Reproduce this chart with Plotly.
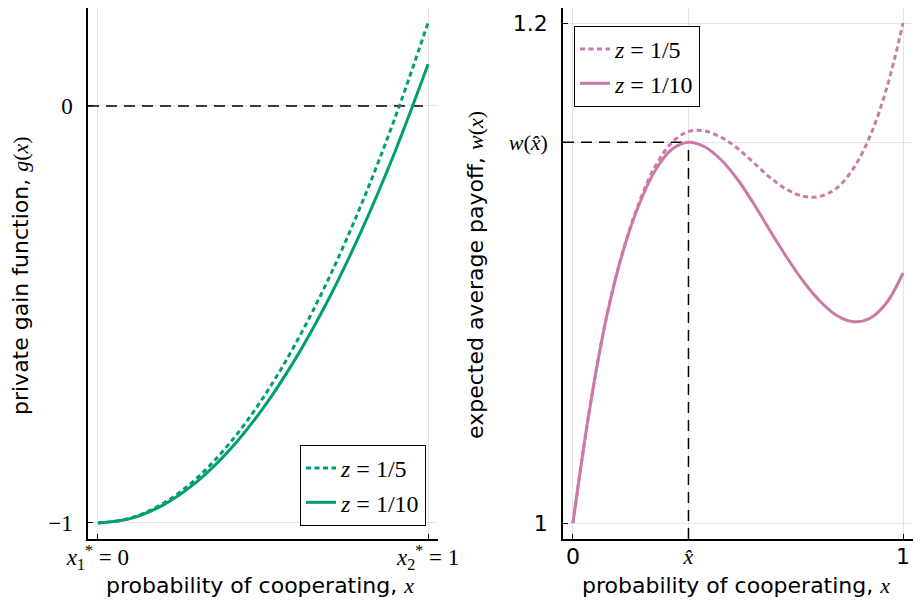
import plotly.graph_objects as go

# ---------------- data ----------------
x_g = [0.0, 0.1, 0.2, 0.3, 0.4, 0.5, 0.6, 0.7, 0.8, 0.9, 1.0]
g_z5 = [-1.0, -0.988, -0.952, -0.892, -0.808, -0.700, -0.568, -0.412, -0.232, -0.028, 0.200]
g_z10 = [-1.0, -0.989, -0.956, -0.901, -0.824, -0.725, -0.604, -0.461, -0.296, -0.109, 0.100]

x_w = [0.0, 0.05, 0.10, 0.15, 0.20, 0.25, 0.30, 0.35, 0.40, 0.45, 0.50,
       0.55, 0.60, 0.65, 0.70, 0.75, 0.80, 0.85, 0.90, 0.95, 1.00]
w_z5 = [1.0000, 1.0450, 1.0813, 1.1081, 1.1280, 1.1428, 1.1522, 1.1566, 1.1568, 1.1542, 1.1497,
        1.1438, 1.1379, 1.1333, 1.1306, 1.1307, 1.1341, 1.1419, 1.1548, 1.1738, 1.2000]
w_z10 = [1.0000, 1.0450, 1.0812, 1.1078, 1.1272, 1.1412, 1.1495, 1.1523, 1.1504, 1.1451, 1.1372,
         1.1272, 1.1163, 1.1058, 1.0963, 1.0885, 1.0829, 1.0805, 1.0819, 1.0881, 1.1000]

x_hat = 0.35
w_hat = 1.1523

series_names = ["<i>z</i> = 1/5", "<i>z</i> = 1/10"]

SERIF = "Liberation Serif"
SANS = "DejaVu Sans"

left_xticks = [0, 1]
left_xticktext = ["<i>x</i><sub>1</sub><sup>*</sup> = 0", "<i>x</i><sub>2</sub><sup>*</sup> = 1"]
left_yticks = [-1, 0]
left_yticktext = ["\u22121", "0"]

right_xticks = [0, x_hat, 1]
right_xticktext = ["0", f'<span style="font-family:{SERIF}"><i>x\u0302</i></span>', "1"]
right_yticks = [1, w_hat, 1.2]
right_yticktext = ["1", f'<span style="font-family:{SERIF}"><i>w</i>(<i>x\u0302</i>)</span>', "1.2"]

GREEN = "#009E73"
PINK = "#CC79A7"
DOT = "5px,3.5px"
REF_DASH = "11px,7px"

fig = go.Figure()

# ---------- left panel ----------
fig.add_trace(go.Scatter(x=[-0.03, 1], y=[0, 0], mode="lines", showlegend=False,
                         line=dict(color="black", width=1.5, dash=REF_DASH),
                         xaxis="x", yaxis="y", hoverinfo="skip"))
fig.add_trace(go.Scatter(x=x_g, y=g_z5, mode="lines", name=series_names[0],
                         line=dict(color=GREEN, width=3, dash=DOT, shape="spline"),
                         xaxis="x", yaxis="y", legend="legend"))
fig.add_trace(go.Scatter(x=x_g, y=g_z10, mode="lines", name=series_names[1],
                         line=dict(color=GREEN, width=3, shape="spline"),
                         xaxis="x", yaxis="y", legend="legend"))

# ---------- right panel ----------
fig.add_trace(go.Scatter(x=[-0.03, x_hat], y=[w_hat, w_hat], mode="lines", showlegend=False,
                         line=dict(color="black", width=1.5, dash=REF_DASH),
                         xaxis="x2", yaxis="y2", hoverinfo="skip"))
fig.add_trace(go.Scatter(x=[x_hat, x_hat], y=[0.9936, w_hat], mode="lines", showlegend=False,
                         line=dict(color="black", width=1.5, dash=REF_DASH),
                         xaxis="x2", yaxis="y2", hoverinfo="skip"))
fig.add_trace(go.Scatter(x=x_w, y=w_z5, mode="lines", name=series_names[0],
                         line=dict(color=PINK, width=3, dash=DOT, shape="spline"),
                         xaxis="x2", yaxis="y2", legend="legend2"))
fig.add_trace(go.Scatter(x=x_w, y=w_z10, mode="lines", name=series_names[1],
                         line=dict(color=PINK, width=3, shape="spline"),
                         xaxis="x2", yaxis="y2", legend="legend2"))

# page has an 8px body margin: the figure is drawn 905x589 starting at (8, 8)
OFF = 8
W, H = 921 - 2 * OFF, 605 - 2 * OFF


def px(p):
    return (p - OFF) / W


def py(p):
    return (H - (p - OFF)) / H


axis_common = dict(showline=True, linecolor="black", linewidth=1.5, mirror=False,
                   ticks="inside", ticklen=5, tickwidth=1.2, tickcolor="black",
                   showgrid=True, gridcolor="rgba(0,0,0,0.1)", gridwidth=1,
                   zeroline=False, automargin=False, fixedrange=True)

ydom = [py(539), 1.0]

fig.update_layout(
    width=W, height=H,
    margin=dict(l=0, r=0, t=0, b=0),
    paper_bgcolor="white", plot_bgcolor="white",
    font=dict(family=SANS, size=22, color="black"),
    showlegend=True,
    xaxis=dict(domain=[px(88), px(438)], range=[-0.03, 1.03], anchor="y",
               tickvals=left_xticks, ticktext=left_xticktext,
               tickfont=dict(family=SERIF, size=23), ticklabelstandoff=-3, **axis_common),
    yaxis=dict(domain=ydom, range=[-1.0384, 0.235], anchor="x",
               tickvals=left_yticks, ticktext=left_yticktext,
               tickfont=dict(family=SERIF, size=23), ticklabelstandoff=9, **axis_common),
    xaxis2=dict(domain=[px(563), 1.0], range=[-0.03, 1.03], anchor="y2",
                tickvals=right_xticks, ticktext=right_xticktext,
                tickfont=dict(family=SANS, size=22), ticklabelstandoff=-3, **axis_common),
    yaxis2=dict(domain=ydom, range=[0.9936, 1.206], anchor="x2",
                tickvals=right_yticks, ticktext=right_yticktext,
                tickfont=dict(family=SANS, size=22), ticklabelstandoff=9, **axis_common),
    legend=dict(x=px(426), y=py(445), xanchor="right", yanchor="top",
                bordercolor="black", borderwidth=1, bgcolor="white",
                font=dict(family=SERIF, size=24), itemwidth=30, tracegroupgap=0),
    legend2=dict(x=px(574), y=py(26), xanchor="left", yanchor="top",
                 bordercolor="black", borderwidth=1, bgcolor="white",
                 font=dict(family=SERIF, size=24), itemwidth=30, tracegroupgap=0),
    annotations=[
        dict(text=f'private gain function, <span style="font-family:{SERIF}"><i>g</i>(<i>x</i>)</span>',
             x=px(20), y=py(276), xref="paper", yref="paper", textangle=-90,
             showarrow=False, xanchor="center", yanchor="middle", font=dict(size=22)),
        dict(text=f'expected average payoff, <span style="font-family:{SERIF}"><i>w</i>(<i>x</i>)</span>',
             x=px(476), y=py(275), xref="paper", yref="paper", textangle=-90,
             showarrow=False, xanchor="center", yanchor="middle", font=dict(size=22)),
        dict(text=f'probability of cooperating, <span style="font-family:{SERIF}"><i>x</i></span>',
             x=px(260), y=py(585), xref="paper", yref="paper",
             showarrow=False, xanchor="center", yanchor="middle", font=dict(size=22)),
        dict(text=f'probability of cooperating, <span style="font-family:{SERIF}"><i>x</i></span>',
             x=px(736), y=py(585), xref="paper", yref="paper",
             showarrow=False, xanchor="center", yanchor="middle", font=dict(size=22)),
    ],
)

fig.write_html("out.html")
